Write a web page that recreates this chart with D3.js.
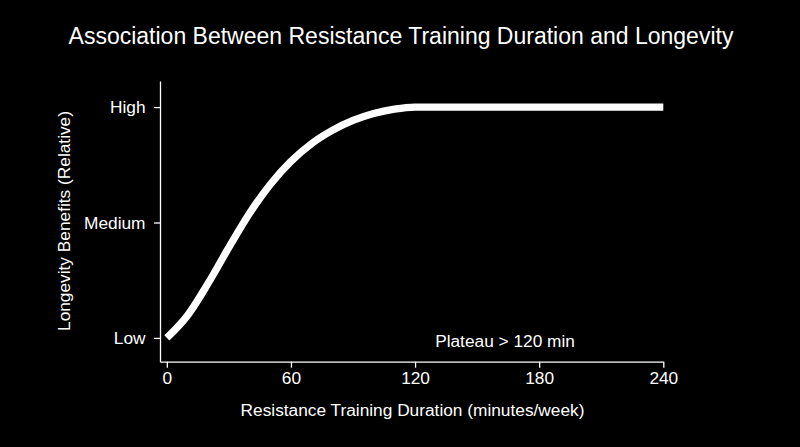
<!DOCTYPE html>
<html>
<head>
<meta charset="utf-8">
<script src="https://cdn.jsdelivr.net/npm/d3@7"></script>
<style>
  html, body { margin: 0; padding: 0; background: #000; }
  svg { display: block; }
  text { font-family: "Liberation Sans", Arial, Helvetica, sans-serif; fill: #fff; }
</style>
</head>
<body>
<svg id="chart" width="800" height="447"></svg>
<script>
// ---- data ----
const minutes = [0, 10, 20, 30, 40, 50, 60, 70, 80, 90, 100, 110, 120, 180, 240];
const benefit = [0, 0.097, 0.237, 0.392, 0.54, 0.665, 0.765, 0.842, 0.899, 0.942, 0.972, 0.991, 1.0, 1.0, 1.0];
const xTicks = [0, 60, 120, 180, 240];
const yTicks = [0, 0.5, 1];
const yTickLabels = ["Low", "Medium", "High"];
const titleText = "Association Between Resistance Training Duration and Longevity";
const xLabel = "Resistance Training Duration (minutes/week)";
const yLabel = "Longevity Benefits (Relative)";
const note = { text: "Plateau > 120 min", x: 163.5, y: 0 };

const svg = d3.select("#chart");
svg.append("rect").attr("width", 800).attr("height", 447).attr("fill", "#000");

const x = d3.scaleLinear().domain([-3.3, 240]).range([160, 663.3]);
const y = d3.scaleLinear().domain([-0.103, 1.113]).range([361.7, 81]);

// title
svg.append("text")
  .attr("x", 401).attr("y", 43.5)
  .attr("text-anchor", "middle")
  .style("font-size", "23px")
  .text(titleText);

// x axis
const gx = svg.append("g")
  .attr("transform", `translate(0,${y.range()[0]})`)
  .call(d3.axisBottom(x).tickValues(xTicks).tickSize(6).tickSizeOuter(0).tickPadding(4.5));
// y axis
const gy = svg.append("g")
  .attr("transform", `translate(${x.range()[0]},0)`)
  .call(d3.axisLeft(y).tickValues(yTicks).tickFormat((d, i) => yTickLabels[i]).tickSize(6).tickSizeOuter(0).tickPadding(8.5));

[gx, gy].forEach(g => {
  g.selectAll("path.domain").attr("stroke", "#fff").attr("stroke-width", 1.3);
  g.selectAll(".tick line").attr("stroke", "#fff").attr("stroke-width", 1.3);
  g.selectAll(".tick text").attr("fill", "#fff")
    .style("font-size", "17.3px")
    .style("font-family", '"Liberation Sans", Arial, Helvetica, sans-serif');
});

// axis labels
svg.append("text")
  .attr("x", 412.5).attr("y", 416)
  .attr("text-anchor", "middle")
  .style("font-size", "17.3px")
  .text(xLabel);

svg.append("text")
  .attr("transform", "translate(70,221) rotate(-90)")
  .attr("text-anchor", "middle")
  .style("font-size", "17.3px")
  .text(yLabel);

// curve
const pts = minutes.map((m, i) => [m, benefit[i]]);
const line = d3.line()
  .x(d => x(d[0]))
  .y(d => y(d[1]))
  .curve(d3.curveMonotoneX);

svg.append("path")
  .datum(pts)
  .attr("d", line)
  .attr("fill", "none")
  .attr("stroke", "#fff")
  .attr("stroke-width", 7.3)
  .attr("stroke-linecap", "butt")
  .attr("stroke-linejoin", "round");

// annotation
svg.append("text")
  .attr("x", x(note.x)).attr("y", y(note.y) + 8.7)
  .attr("text-anchor", "middle")
  .style("font-size", "17.3px")
  .text(note.text);
</script>
</body>
</html>
